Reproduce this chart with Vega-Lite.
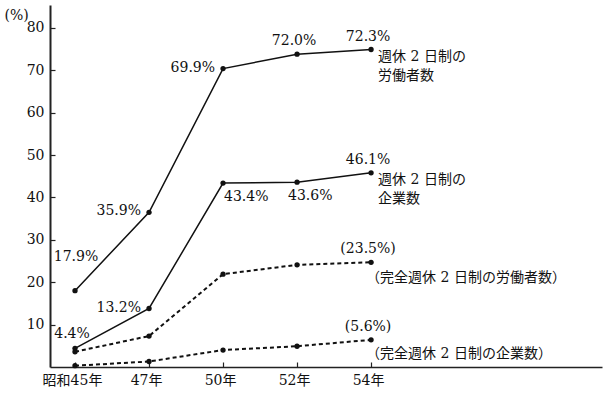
{
  "$schema": "https://vega.github.io/schema/vega-lite/v6.json",
  "width": 552,
  "height": 362,
  "autosize": "none",
  "padding": {"left": 50, "top": 5, "right": 3, "bottom": 27},
  "background": "white",
  "config": {
    "view": {"stroke": null},
    "axis": {"grid": false, "domainColor": "#222", "tickColor": "#222", "labelColor": "#111", "titleColor": "#111"}
  },
  "data": {
    "values": [
      {"series": "A", "i": 0, "value": 18.0, "label": "17.9%", "name": "週休 2 日制の\n労働者数"},
      {"series": "A", "i": 1, "value": 36.5, "label": "35.9%", "name": "週休 2 日制の\n労働者数"},
      {"series": "A", "i": 2, "value": 70.4, "label": "69.9%", "name": "週休 2 日制の\n労働者数"},
      {"series": "A", "i": 3, "value": 73.8, "label": "72.0%", "name": "週休 2 日制の\n労働者数"},
      {"series": "A", "i": 4, "value": 74.9, "label": "72.3%", "name": "週休 2 日制の\n労働者数"},
      {"series": "B", "i": 0, "value": 4.4, "label": "4.4%", "name": "週休 2 日制の\n企業数"},
      {"series": "B", "i": 1, "value": 13.8, "label": "13.2%", "name": "週休 2 日制の\n企業数"},
      {"series": "B", "i": 2, "value": 43.4, "label": "43.4%", "name": "週休 2 日制の\n企業数"},
      {"series": "B", "i": 3, "value": 43.6, "label": "43.6%", "name": "週休 2 日制の\n企業数"},
      {"series": "B", "i": 4, "value": 45.8, "label": "46.1%", "name": "週休 2 日制の\n企業数"},
      {"series": "C", "i": 0, "value": 3.6, "label": "", "name": "（完全週休 2 日制の労働者数）"},
      {"series": "C", "i": 1, "value": 7.3, "label": "", "name": "（完全週休 2 日制の労働者数）"},
      {"series": "C", "i": 2, "value": 21.9, "label": "", "name": "（完全週休 2 日制の労働者数）"},
      {"series": "C", "i": 3, "value": 24.1, "label": "", "name": "（完全週休 2 日制の労働者数）"},
      {"series": "C", "i": 4, "value": 24.7, "label": "(23.5%)", "name": "（完全週休 2 日制の労働者数）"},
      {"series": "D", "i": 0, "value": 0.3, "label": "", "name": "（完全週休 2 日制の企業数）"},
      {"series": "D", "i": 1, "value": 1.3, "label": "", "name": "（完全週休 2 日制の企業数）"},
      {"series": "D", "i": 2, "value": 4.0, "label": "", "name": "（完全週休 2 日制の企業数）"},
      {"series": "D", "i": 3, "value": 4.9, "label": "", "name": "（完全週休 2 日制の企業数）"},
      {"series": "D", "i": 4, "value": 6.4, "label": "(5.6%)", "name": "（完全週休 2 日制の企業数）"}
    ]
  },
  "encoding": {
    "x": {
      "field": "i", "type": "quantitative",
      "scale": {"domain": [-0.338, 7.12], "nice": false, "zero": false},
      "axis": {
        "title": null, "values": [0, 1, 2, 3, 4],
        "labelExpr": "['昭和45年','47年','50年','52年','54年'][datum.value]",
        "tickSize": -5, "tickWidth": 1.2, "domainWidth": 1.6,
        "labelPadding": 11, "labelBaseline": "top", "labelOffset": -3,
        "labelFont": "DejaVu Serif, Noto Sans CJK JP", "labelFontSize": 14
      }
    },
    "y": {
      "field": "value", "type": "quantitative",
      "scale": {"domain": [0, 85.4], "nice": false},
      "axis": {
        "title": "(%)", "titleAngle": 0, "titleX": -46, "titleY": 10,
        "titleAlign": "left", "titleBaseline": "middle",
        "titleFont": "DejaVu Serif", "titleFontSize": 14, "titleFontWeight": "normal",
        "values": [10, 20, 30, 40, 50, 60, 70, 80],
        "tickSize": -5, "tickWidth": 1.2, "domainWidth": 2,
        "labelPadding": 11, "labelFont": "DejaVu Serif", "labelFontSize": 14
      }
    }
  },
  "layer": [
    {
      "transform": [{"filter": "datum.series == 'A' || datum.series == 'B'"}],
      "mark": {"type": "line", "color": "#111", "strokeWidth": 1.5},
      "encoding": {"detail": {"field": "series"}}
    },
    {
      "transform": [{"filter": "datum.series == 'C' || datum.series == 'D'"}],
      "mark": {"type": "line", "color": "#111", "strokeWidth": 2, "strokeDash": [4, 3]},
      "encoding": {"detail": {"field": "series"}}
    },
    {
      "mark": {"type": "point", "filled": true, "color": "#111", "size": 28, "opacity": 1}
    },
    {
      "transform": [{"filter": "(datum.i == 3 && datum.series == 'A') || (datum.i == 4)"}],
      "mark": {"type": "text", "font": "DejaVu Serif", "fontSize": 14, "color": "#111", "align": "center", "baseline": "middle", "dx": -3, "dy": -13},
      "encoding": {"text": {"field": "label"}}
    },
    {
      "transform": [{"filter": "datum.series == 'A' && datum.i == 0"}],
      "mark": {"type": "text", "font": "DejaVu Serif", "fontSize": 14, "color": "#111", "align": "center", "baseline": "middle", "dx": 1, "dy": -34},
      "encoding": {"text": {"field": "label"}}
    },
    {
      "transform": [{"filter": "datum.series == 'B' && datum.i == 0"}],
      "mark": {"type": "text", "font": "DejaVu Serif", "fontSize": 14, "color": "#111", "align": "center", "baseline": "middle", "dx": -3, "dy": -14},
      "encoding": {"text": {"field": "label"}}
    },
    {
      "transform": [{"filter": "(datum.series == 'A' && (datum.i == 1 || datum.i == 2)) || (datum.series == 'B' && datum.i == 1)"}],
      "mark": {"type": "text", "font": "DejaVu Serif", "fontSize": 14, "color": "#111", "align": "right", "baseline": "middle", "dx": -8, "dy": -1},
      "encoding": {"text": {"field": "label"}}
    },
    {
      "transform": [{"filter": "datum.series == 'B' && datum.i == 2"}],
      "mark": {"type": "text", "font": "DejaVu Serif", "fontSize": 14, "color": "#111", "align": "left", "baseline": "middle", "dx": 1, "dy": 14},
      "encoding": {"text": {"field": "label"}}
    },
    {
      "transform": [{"filter": "datum.series == 'B' && datum.i == 3"}],
      "mark": {"type": "text", "font": "DejaVu Serif", "fontSize": 14, "color": "#111", "align": "left", "baseline": "middle", "dx": -9, "dy": 14},
      "encoding": {"text": {"field": "label"}}
    },
    {
      "transform": [{"filter": "(datum.series == 'A' || datum.series == 'B') && datum.i == 4"}],
      "mark": {"type": "text", "font": "DejaVu Serif, Noto Sans CJK JP", "fontSize": 14, "color": "#111", "align": "left", "baseline": "middle", "lineBreak": "\n", "lineHeight": 19, "dx": 7, "dy": 7},
      "encoding": {"text": {"field": "name"}}
    },
    {
      "transform": [{"filter": "datum.series == 'C' && datum.i == 4"}],
      "mark": {"type": "text", "font": "DejaVu Serif, Noto Sans CJK JP", "fontSize": 14, "color": "#111", "align": "left", "baseline": "middle", "dx": -5, "dy": 16},
      "encoding": {"text": {"field": "name"}}
    },
    {
      "transform": [{"filter": "datum.series == 'D' && datum.i == 4"}],
      "mark": {"type": "text", "font": "DejaVu Serif, Noto Sans CJK JP", "fontSize": 14, "color": "#111", "align": "left", "baseline": "middle", "dx": -5, "dy": 14},
      "encoding": {"text": {"field": "name"}}
    }
  ]
}
